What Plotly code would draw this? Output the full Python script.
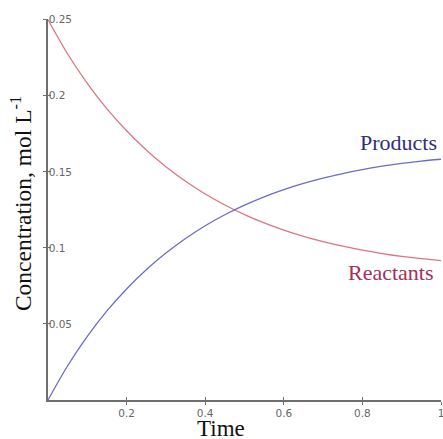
import plotly.graph_objects as go

time = [0.0, 0.05, 0.1, 0.15, 0.2, 0.25, 0.3, 0.35, 0.4, 0.45, 0.5,
        0.55, 0.6, 0.65, 0.7, 0.75, 0.8, 0.85, 0.9, 0.95, 1.0]
reactants = [0.2500, 0.2275, 0.2082, 0.1914, 0.1770, 0.1644, 0.1534, 0.1438, 0.1354, 0.1282, 0.1219,
             0.1164, 0.1117, 0.1076, 0.1041, 0.1011, 0.0985, 0.0963, 0.0944, 0.0929, 0.0917]
products = [0.0000, 0.0225, 0.0418, 0.0586, 0.0730, 0.0856, 0.0966, 0.1062, 0.1146, 0.1218, 0.1281,
            0.1336, 0.1383, 0.1424, 0.1459, 0.1489, 0.1515, 0.1537, 0.1556, 0.1571, 0.1583]

x_ticks = [0.2, 0.4, 0.6, 0.8, 1.0]
x_tick_text = ["0.2", "0.4", "0.6", "0.8", "1"]
y_ticks = [0.05, 0.1, 0.15, 0.2, 0.25]
y_tick_text = ["0.05", "0.1", "0.15", "0.2", "0.25"]

fig = go.Figure()
fig.add_trace(go.Scatter(x=time, y=reactants, mode="lines", name="Reactants",
                         line=dict(color="#dc7583", width=1.3, shape="spline", smoothing=0.8)))
fig.add_trace(go.Scatter(x=time, y=products, mode="lines", name="Products",
                         line=dict(color="#6c6cc8", width=1.3, shape="spline", smoothing=0.8)))
# invisible trace to activate overlay axes (inside tick halves)
fig.add_trace(go.Scatter(x=[time[0]], y=[reactants[0]], xaxis="x2", yaxis="y2",
                         mode="markers", marker=dict(opacity=0), showlegend=False,
                         hoverinfo="skip"))

tick_font = dict(family="DejaVu Sans", size=10.5, color="#666666")
axis_col = "#6e6e6e"

fig.update_layout(
    width=443, height=439,
    margin=dict(l=48, r=2, t=19, b=39, autoexpand=False),
    paper_bgcolor="white", plot_bgcolor="white",
    showlegend=False,
    xaxis=dict(range=[0, 1], showgrid=False, zeroline=False, automargin=False,
               showline=True, linecolor=axis_col, linewidth=1.5,
               ticks="outside", ticklen=3, tickcolor=axis_col, tickwidth=1.2,
               tickvals=x_ticks, ticktext=x_tick_text, tickfont=tick_font,
               ticklabeloverflow="allow"),
    yaxis=dict(range=[0, 0.2505], showgrid=False, zeroline=False, automargin=False,
               showline=True, linecolor=axis_col, linewidth=1.5,
               ticks="outside", ticklen=3, tickcolor=axis_col, tickwidth=1.2,
               tickvals=y_ticks, ticktext=y_tick_text, tickfont=tick_font,
               ticklabelposition="inside", ticklabeloverflow="allow"),
    xaxis2=dict(range=[0, 1], overlaying="x", showgrid=False, zeroline=False,
                automargin=False, showline=False, ticks="inside", ticklen=3,
                tickcolor=axis_col, tickwidth=1.2, tickvals=x_ticks,
                showticklabels=False, side="bottom"),
    yaxis2=dict(range=[0, 0.2505], overlaying="y", showgrid=False, zeroline=False,
                automargin=False, showline=False, ticks="inside", ticklen=3,
                tickcolor=axis_col, tickwidth=1.2, tickvals=y_ticks,
                showticklabels=False, side="left"),
)

serif = "Liberation Serif"
fig.add_annotation(text="Time", xref="paper", yref="paper", x=0.44, y=-0.038,
                   xanchor="center", yanchor="top", showarrow=False,
                   font=dict(family=serif, size=23, color="#111111"))
fig.add_annotation(text="Concentration, mol L<sup>-1</sup>", xref="paper", yref="paper",
                   x=-0.068, y=0.515, xanchor="center", yanchor="middle", textangle=-90,
                   showarrow=False, font=dict(family=serif, size=23.5, color="#111111"))
fig.add_annotation(text="Products", xref="paper", yref="y", x=0.789, y=0.169,
                   xanchor="left", yanchor="middle", showarrow=False,
                   font=dict(family=serif, size=22, color="#2e2e7c"))
fig.add_annotation(text="Reactants", xref="paper", yref="y", x=0.758, y=0.084,
                   xanchor="left", yanchor="middle", showarrow=False,
                   font=dict(family=serif, size=22, color="#a33058"))

# remove the browser's default 8px body margin so the figure fills the window
fig.write_html("out.html", config={"displayModeBar": False},
               post_script="document.body.style.margin='0px';")
